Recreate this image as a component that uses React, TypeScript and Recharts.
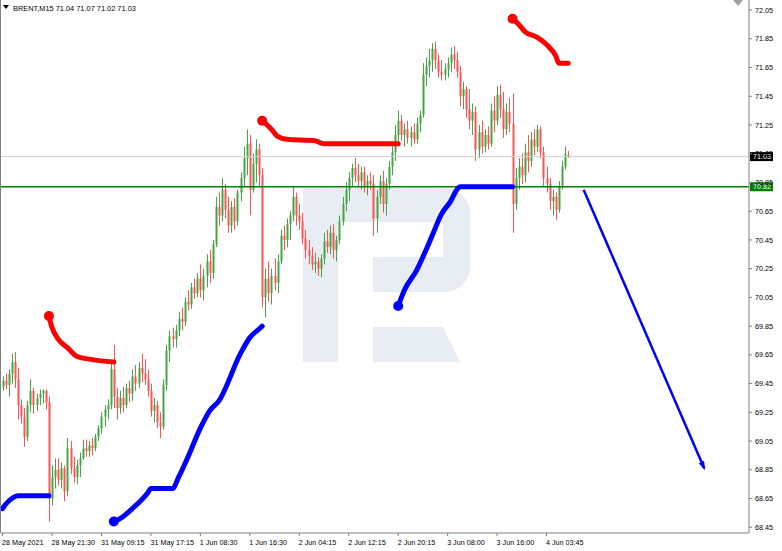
import React from "react";
import { Bar, ComposedChart, Line, ReferenceLine, XAxis, YAxis } from "recharts";

// BRENT M15, drawn here as two M15 bars per slot: [open, high, low, close]
type Candle = [number, number, number, number];
type Pt = [number, number]; // [slot, price]

const may28a: Candle[] = [
  [69.43, 69.5, 69.4, 69.47], [69.47, 69.52, 69.41, 69.44], [69.44, 69.55, 69.36, 69.52], [69.52, 69.66, 69.45, 69.6],
  [69.6, 69.67, 69.42, 69.48], [69.48, 69.56, 69.2, 69.3], [69.3, 69.34, 69.17, 69.22], [69.22, 69.28, 69.01, 69.08],
  [69.08, 69.33, 69.05, 69.3], [69.3, 69.48, 69.25, 69.4], [69.4, 69.42, 69.24, 69.3], [69.3, 69.38, 69.26, 69.35],
  [69.35, 69.41, 69.3, 69.38], [69.38, 69.41, 69.31, 69.4], [69.4, 69.41, 69.27, 69.32], [69.32, 69.36, 68.49, 68.65],
];
const may28b: Candle[] = [
  [68.65, 68.88, 68.6, 68.8], [68.8, 68.93, 68.72, 68.85], [68.85, 68.93, 68.74, 68.78], [68.78, 68.9, 68.72, 68.86],
  [68.86, 68.88, 68.63, 68.7], [68.7, 69.07, 68.67, 69.0], [69.0, 69.05, 68.82, 68.86], [68.86, 68.94, 68.76, 68.8],
  [68.8, 68.92, 68.75, 68.88], [68.88, 68.97, 68.8, 68.93], [68.93, 69.06, 68.92, 69.0], [69.0, 69.06, 68.94, 68.98],
  [68.98, 69.05, 68.94, 69.02], [69.02, 69.07, 68.95, 69.0], [69.0, 69.1, 68.98, 69.08], [69.08, 69.16, 69.05, 69.14],
];
const may31a: Candle[] = [
  [69.14, 69.25, 69.1, 69.22], [69.22, 69.3, 69.15, 69.27], [69.27, 69.34, 69.2, 69.3], [69.3, 69.6, 69.27, 69.55],
  [69.55, 69.72, 69.28, 69.36], [69.36, 69.42, 69.2, 69.28], [69.28, 69.4, 69.24, 69.35], [69.35, 69.43, 69.25, 69.3],
  [69.3, 69.45, 69.28, 69.42], [69.42, 69.47, 69.32, 69.38], [69.38, 69.55, 69.33, 69.5], [69.5, 69.58, 69.4, 69.45],
  [69.45, 69.6, 69.42, 69.56], [69.56, 69.66, 69.46, 69.52], [69.52, 69.62, 69.44, 69.48], [69.48, 69.55, 69.36, 69.4],
];
const may31b: Candle[] = [
  [69.4, 69.45, 69.22, 69.26], [69.26, 69.35, 69.18, 69.3], [69.3, 69.33, 69.14, 69.18], [69.18, 69.25, 69.07, 69.15],
  [69.15, 69.48, 69.13, 69.44], [69.44, 69.72, 69.4, 69.68], [69.68, 69.82, 69.6, 69.78], [69.78, 69.84, 69.7, 69.76],
  [69.76, 69.86, 69.7, 69.82], [69.82, 69.95, 69.78, 69.9], [69.9, 69.98, 69.82, 69.88], [69.88, 70.05, 69.85, 70.02],
  [70.02, 70.1, 69.96, 70.0], [70.0, 70.15, 69.97, 70.12], [70.12, 70.18, 70.04, 70.08], [70.08, 70.22, 70.05, 70.18],
];
const jun1a: Candle[] = [
  [70.18, 70.28, 70.05, 70.1], [70.1, 70.25, 70.03, 70.2], [70.2, 70.35, 70.12, 70.3], [70.3, 70.38, 70.15, 70.22],
  [70.22, 70.45, 70.18, 70.42], [70.42, 70.75, 70.4, 70.68], [70.68, 70.78, 70.55, 70.62], [70.62, 70.88, 70.58, 70.8],
  [70.8, 70.84, 70.6, 70.66], [70.66, 70.75, 70.5, 70.55], [70.55, 70.72, 70.5, 70.68], [70.68, 70.74, 70.52, 70.58],
  [70.58, 70.8, 70.55, 70.78], [70.78, 70.92, 70.72, 70.88], [70.88, 71.1, 70.82, 71.02], [71.02, 71.22, 70.9, 71.12],
];
const jun1b: Candle[] = [
  [71.12, 71.18, 70.62, 70.8], [70.8, 71.05, 70.78, 70.98], [70.98, 71.15, 70.85, 71.08], [71.08, 71.12, 70.82, 70.9],
  [70.9, 70.95, 69.98, 70.05], [70.05, 70.25, 69.91, 70.18], [70.18, 70.3, 70.02, 70.08], [70.08, 70.25, 70.0, 70.2],
  [70.2, 70.32, 70.1, 70.15], [70.15, 70.35, 70.08, 70.3], [70.3, 70.52, 70.28, 70.48], [70.48, 70.55, 70.38, 70.45],
  [70.45, 70.6, 70.4, 70.56], [70.56, 70.65, 70.45, 70.62], [70.62, 70.82, 70.58, 70.75], [70.75, 70.78, 70.55, 70.62],
];
const jun2a: Candle[] = [
  [70.62, 70.7, 70.52, 70.58], [70.58, 70.64, 70.42, 70.46], [70.46, 70.52, 70.32, 70.38], [70.38, 70.45, 70.28, 70.34],
  [70.34, 70.4, 70.24, 70.28], [70.28, 70.36, 70.22, 70.3], [70.3, 70.33, 70.2, 70.25], [70.25, 70.35, 70.19, 70.32],
  [70.32, 70.5, 70.28, 70.44], [70.44, 70.52, 70.36, 70.4], [70.4, 70.55, 70.35, 70.5], [70.5, 70.56, 70.32, 70.38],
  [70.38, 70.48, 70.3, 70.45], [70.45, 70.62, 70.42, 70.58], [70.58, 70.75, 70.55, 70.7], [70.7, 70.85, 70.65, 70.8],
];
const jun2b: Candle[] = [
  [70.8, 70.92, 70.72, 70.88], [70.88, 70.98, 70.82, 70.95], [70.95, 71.02, 70.85, 70.9], [70.9, 70.98, 70.82, 70.86],
  [70.86, 70.96, 70.8, 70.92], [70.92, 70.96, 70.78, 70.82], [70.82, 70.9, 70.76, 70.86], [70.86, 70.92, 70.8, 70.84],
  [70.84, 70.9, 70.48, 70.6], [70.6, 70.8, 70.5, 70.75], [70.75, 70.9, 70.7, 70.86], [70.86, 70.93, 70.64, 70.7],
  [70.7, 70.88, 70.62, 70.84], [70.84, 71.0, 70.8, 70.96], [70.96, 71.12, 70.9, 71.06], [71.06, 71.25, 71.0, 71.18],
];
const jun2c: Candle[] = [
  [71.18, 71.35, 71.1, 71.28], [71.28, 71.32, 71.14, 71.18], [71.18, 71.26, 71.1, 71.22], [71.22, 71.28, 71.12, 71.16],
  [71.16, 71.24, 71.1, 71.2], [71.2, 71.26, 71.12, 71.15], [71.15, 71.3, 71.12, 71.26], [71.26, 71.35, 71.2, 71.32],
  [71.32, 71.68, 71.3, 71.6], [71.6, 71.72, 71.52, 71.66], [71.66, 71.78, 71.58, 71.7], [71.7, 71.82, 71.62, 71.78],
  [71.78, 71.83, 71.64, 71.7], [71.7, 71.74, 71.58, 71.62], [71.62, 71.7, 71.56, 71.6], [71.6, 71.68, 71.56, 71.64],
];
const jun3a: Candle[] = [
  [71.64, 71.72, 71.58, 71.68], [71.68, 71.79, 71.62, 71.74], [71.74, 71.8, 71.64, 71.7], [71.7, 71.76, 71.58, 71.62],
  [71.62, 71.66, 71.38, 71.45], [71.45, 71.55, 71.36, 71.5], [71.5, 71.52, 71.3, 71.36], [71.36, 71.5, 71.22, 71.28],
  [71.28, 71.4, 71.18, 71.34], [71.34, 71.38, 71.0, 71.08], [71.08, 71.25, 71.02, 71.2], [71.2, 71.28, 71.05, 71.1],
  [71.1, 71.22, 71.06, 71.18], [71.18, 71.24, 71.08, 71.12], [71.12, 71.4, 71.1, 71.35], [71.35, 71.45, 71.2, 71.28],
];
const jun3b: Candle[] = [
  [71.28, 71.52, 71.25, 71.46], [71.46, 71.53, 71.3, 71.36], [71.36, 71.48, 71.16, 71.22], [71.22, 71.4, 71.18, 71.34],
  [71.34, 71.44, 71.2, 71.26], [71.26, 71.47, 70.5, 70.7], [70.7, 70.95, 70.66, 70.88], [70.88, 71.02, 70.8, 70.96],
  [70.96, 71.05, 70.84, 70.9], [70.9, 71.12, 70.85, 71.06], [71.06, 71.18, 70.92, 71.0], [71.0, 71.2, 70.96, 71.15],
  [71.15, 71.22, 71.04, 71.1], [71.1, 71.25, 71.06, 71.22], [71.22, 71.24, 71.02, 71.06], [71.06, 71.1, 70.82, 70.88],
];
const jun4a: Candle[] = [
  [70.88, 70.96, 70.78, 70.84], [70.84, 70.88, 70.66, 70.72], [70.72, 70.8, 70.62, 70.75], [70.75, 70.78, 70.59, 70.66],
  [70.66, 70.86, 70.64, 70.82], [70.82, 71.0, 70.8, 70.96], [70.96, 71.1, 70.94, 71.05], [71.04, 71.07, 71.02, 71.03],
];

const TIME_LABELS = [
  "28 May 2021", "28 May 21:30", "31 May 09:15", "31 May 17:15", "1 Jun 08:30", "1 Jun 16:30",
  "2 Jun 04:15", "2 Jun 12:15", "2 Jun 20:15", "3 Jun 08:00", "3 Jun 16:00", "4 Jun 03:45",
];
const TICK_SLOTS = [0, 16, 32, 48, 64, 80, 96, 112, 128, 144, 160, 176];
const PRICE_TICKS = [
  68.45, 68.65, 68.85, 69.05, 69.25, 69.45, 69.65, 69.85, 70.05, 70.25,
  70.45, 70.65, 70.85, 71.05, 71.25, 71.45, 71.65, 71.85, 72.05,
];
const SLOT_COUNT = 242; // candles + empty space on the right

const BID = 71.03;
const LEVEL = 70.82;

// hand-drawn levels on the chart
const redA: Pt[] = [[15, 69.92], [16, 69.84], [18, 69.76], [21, 69.7], [24, 69.64], [28, 69.62], [36, 69.6]];
const redB: Pt[] = [[84, 71.28], [87, 71.22], [89, 71.17], [92, 71.15], [101, 71.14], [104, 71.12], [128, 71.12]];
const redC: Pt[] = [[165, 71.99], [167, 71.95], [169, 71.9], [173, 71.86], [176, 71.81], [179, 71.73], [180, 71.68], [183, 71.68]];
const blueA: Pt[] = [[0, 68.58], [1, 68.61], [3, 68.65], [5, 68.67], [15, 68.67]];
const blueB: Pt[] = [
  [36, 68.49], [38, 68.51], [42, 68.58], [47, 68.69], [48, 68.72], [55, 68.72], [57, 68.8], [60, 68.94],
  [64, 69.14], [67, 69.26], [70, 69.33], [77, 69.66], [80, 69.77], [83, 69.83], [84, 69.85],
];
const blueC: Pt[] = [[128, 69.99], [130, 70.1], [134, 70.24], [137, 70.38], [139, 70.48], [142, 70.63], [145, 70.72], [147, 70.8], [148, 70.82], [165, 70.82]];
const arrow: Pt[] = [[188, 70.8], [227, 68.86]];

const candles = [may28a, may28b, may31a, may31b, jun1a, jun1b, jun2a, jun2b, jun2c, jun3a, jun3b, jun4a].flat();
const overlays: Record<string, Pt[]> = { redA, redB, redC, blueA, blueB, blueC, arrow };

const rows = Array.from({ length: SLOT_COUNT }, (_, i) => {
  const row: Record<string, any> = { i };
  const c = candles[i];
  if (c) {
    row.o = c[0];
    row.h = c[1];
    row.l = c[2];
    row.c = c[3];
    row.range = [c[2], c[1]];
  }
  for (const k of Object.keys(overlays)) {
    const hit = overlays[k].find((p) => p[0] === i);
    if (hit) row[k] = hit[1];
  }
  return row;
});

const FONT = '"Liberation Sans", Arial, sans-serif';

function CandleShape(props: any) {
  const { x, y, width, height, payload } = props;
  if (!payload || payload.o == null || !Number.isFinite(y)) return <g />;
  const { o, h, l, c } = payload;
  const top = Math.min(y, y + height);
  const len = Math.abs(height);
  const span = h - l || 1;
  const py = (p: number) => top + ((h - p) / span) * len;
  const cx = Math.round(x + width / 2) + 0.5;
  const color = c > o ? "#45a545" : c < o ? "#ff5252" : "#333";
  const b0 = py(Math.max(o, c));
  const b1 = py(Math.min(o, c));
  return (
    <g>
      <line x1={cx} x2={cx} y1={top} y2={top + len} stroke={color} strokeWidth={1} />
      <rect x={cx - 1} y={b0} width={2} height={Math.max(1, b1 - b0)} fill={color} />
    </g>
  );
}

function startDot(slot: number, color: string) {
  return (p: any) => {
    if (p.index !== slot || p.cy == null) return <g key={`n${p.index}`} />;
    return <circle key={`s${p.index}`} cx={p.cx} cy={p.cy} r={5} fill={color} />;
  };
}

function XTick(props: any) {
  const { x, y, payload } = props;
  const idx = TICK_SLOTS.indexOf(payload.value);
  return (
    <text x={x - 0.5} y={y + 6.5} fontSize={7.2} fontFamily={FONT} fill="#000" textAnchor="start">
      {TIME_LABELS[idx] ?? ""}
    </text>
  );
}

function YTick(props: any) {
  const { x, y, payload } = props;
  return (
    <text x={x} y={y + 2.6} fontSize={7.2} fontFamily={FONT} fill="#000" textAnchor="start">
      {Number(payload.value).toFixed(2)}
    </text>
  );
}

function priceTag(text: string, bg: string) {
  return (p: any) => {
    const vb = p.viewBox || {};
    const x0 = (vb.x ?? 0) + (vb.width ?? 0) + 1;
    const y0 = vb.y ?? 0;
    return (
      <g>
        <rect x={x0} y={y0 - 4.5} width={23} height={9} fill={bg} />
        <text x={x0 + 3} y={y0 + 2.6} fontSize={7.2} fontFamily={FONT} fill="#fff">
          {text}
        </text>
      </g>
    );
  };
}

export default function App() {
  return (
    <div style={{ position: "absolute", left: 0, top: 0, width: 782, height: 551, background: "#fff", overflow: "hidden" }}>
      <svg width={782} height={551} style={{ position: "absolute", left: 0, top: 0 }}>
        <defs>
          <marker id="arrowHead" markerUnits="userSpaceOnUse" markerWidth={10} markerHeight={8} refX={7} refY={3} orient="auto">
            <path d="M0,0 L9,3 L0,6 Z" fill="#0000ff" />
          </marker>
        </defs>
        <g fill="#e8ecf3">
          <path d="M303,188 H445 A25,25 0 0 1 470,213 V267 A25,25 0 0 1 445,292 H373 V257 H443 V222 H338 V362 H303 Z" />
          <path d="M373,327 H443 L460,362 H373 Z" />
        </g>
      </svg>
      <div style={{ position: "absolute", left: 0, top: 0 }}>
        <ComposedChart width={782} height={551} data={rows} margin={{ top: 0, right: 0, left: 1, bottom: 0 }} barCategoryGap={0} barGap={0}>
          <XAxis
            dataKey="i"
            type="category"
            ticks={TICK_SLOTS}
            interval={0}
            height={18}
            tickSize={3}
            tick={<XTick />}
            axisLine={{ stroke: "#808080" }}
            tickLine={{ stroke: "#808080" }}
          />
          <YAxis
            orientation="right"
            type="number"
            domain={[68.41, 72.12]}
            allowDataOverflow
            ticks={PRICE_TICKS}
            interval={0}
            width={33}
            tickSize={3}
            tickMargin={3}
            tick={<YTick />}
            axisLine={{ stroke: "#808080" }}
            tickLine={{ stroke: "#808080" }}
          />
          <ReferenceLine y={BID} stroke="#cfcfcf" strokeWidth={1} label={priceTag(BID.toFixed(2), "#000")} />
          <Bar dataKey="range" shape={<CandleShape />} isAnimationActive={false} />
          <ReferenceLine y={LEVEL} stroke="#008000" strokeWidth={1.5} label={priceTag(LEVEL.toFixed(2), "#008000")} />
          <Line dataKey="redA" type="monotone" connectNulls stroke="#ff0000" strokeWidth={5} strokeLinecap="round" dot={startDot(15, "#ff0000")} activeDot={false} isAnimationActive={false} />
          <Line dataKey="redB" type="monotone" connectNulls stroke="#ff0000" strokeWidth={5} strokeLinecap="round" dot={startDot(84, "#ff0000")} activeDot={false} isAnimationActive={false} />
          <Line dataKey="redC" type="monotone" connectNulls stroke="#ff0000" strokeWidth={5} strokeLinecap="round" dot={startDot(165, "#ff0000")} activeDot={false} isAnimationActive={false} />
          <Line dataKey="blueA" type="monotone" connectNulls stroke="#0000ff" strokeWidth={5} strokeLinecap="round" dot={false} activeDot={false} isAnimationActive={false} />
          <Line dataKey="blueB" type="monotone" connectNulls stroke="#0000ff" strokeWidth={5} strokeLinecap="round" dot={startDot(36, "#0000ff")} activeDot={false} isAnimationActive={false} />
          <Line dataKey="blueC" type="monotone" connectNulls stroke="#0000ff" strokeWidth={5} strokeLinecap="round" dot={startDot(128, "#0000ff")} activeDot={false} isAnimationActive={false} />
          <Line dataKey="arrow" type="linear" connectNulls stroke="#0000ff" strokeWidth={2.5} markerEnd="url(#arrowHead)" dot={false} activeDot={false} isAnimationActive={false} />
        </ComposedChart>
      </div>
      <svg width={782} height={551} style={{ position: "absolute", left: 0, top: 0, pointerEvents: "none" }}>
        <line x1={0.5} x2={0.5} y1={0} y2={533} stroke="#808080" />
        <path d="M3,5 L9,5 L6,9 Z" fill="#000" />
        <text x={13} y={10.5} fontSize={7.4} fontFamily={FONT} fill="#000">
          BRENT,M15  71.04 71.07 71.02 71.03
        </text>
        <path d="M733,0 L743,0 L738,6 Z" fill="#a0a0a0" />
      </svg>
    </div>
  );
}
